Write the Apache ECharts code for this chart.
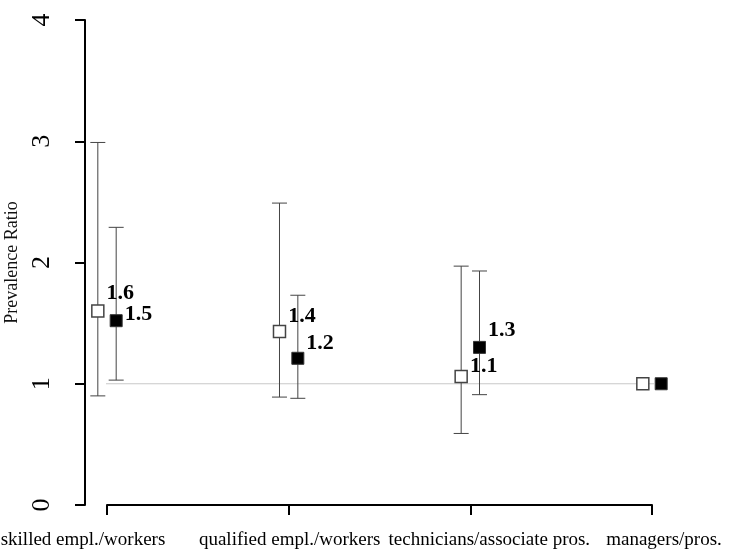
<!DOCTYPE html>
<html>
<head>
<meta charset="utf-8">
<script src="https://cdn.jsdelivr.net/npm/echarts@6/dist/echarts.min.js"></script>
<style>
html,body{margin:0;padding:0;background:#fff;}
#chart{width:739px;height:551px;}
</style>
</head>
<body>
<div id="chart"></div>
<script>
// ---- data ----
const categories = ['skilled empl./workers', 'qualified empl./workers', 'technicians/associate pros.', 'managers/pros.'];
const openPR   = [1.60, 1.43, 1.06, 1.00];
const openLo   = [0.90, 0.89, 0.59, null];
const openHi   = [2.99, 2.49, 1.97, null];
const filledPR = [1.52, 1.21, 1.30, 1.00];
const filledLo = [1.03, 0.88, 0.91, null];
const filledHi = [2.29, 1.73, 1.93, null];
const yTicks   = [0, 1, 2, 3, 4];
const refValue = 1;

// ---- layout / style (not data) ----
const dodge = 0.0505;
const openLabelOffsets   = [[0, -18], [0, -15], [0, -10], null];
const filledLabelOffsets = [[0, -6],  [0, -15], [0, -17], null];
const labelShift = [-24, 1, 19, 12]; // horizontal shift of category labels (px)
const FONT = "Liberation Serif";

function pts(vals, lo, hi, sign, offs) {
  return vals.map((v, i) => {
    const d = { value: [i + 1 + sign * dodge, v, lo[i], hi[i]] };
    d.label = lo[i] != null ? { show: true, offset: offs[i] } : { show: false };
    return d;
  });
}
function bars(vals, lo, hi, sign) {
  const out = [];
  vals.forEach((v, i) => { if (lo[i] != null) out.push([i + 1 + sign * dodge, lo[i], hi[i]]); });
  return out;
}

const errRender = function (params, api) {
  const x = api.value(0);
  const a = api.coord([x, api.value(1)]);
  const b = api.coord([x, api.value(2)]);
  const cap = 7.5;
  const st = { stroke: '#444', lineWidth: 1 };
  return {
    type: 'group',
    children: [
      { type: 'line', shape: { x1: a[0], y1: a[1], x2: b[0], y2: b[1] }, style: st },
      { type: 'line', shape: { x1: a[0] - cap, y1: a[1], x2: a[0] + cap, y2: a[1] }, style: st },
      { type: 'line', shape: { x1: b[0] - cap, y1: b[1], x2: b[0] + cap, y2: b[1] }, style: st }
    ]
  };
};

const rich = {};
labelShift.forEach((s, i) => {
  rich['c' + i] = {
    fontFamily: FONT, fontSize: 19, color: '#000',
    padding: s >= 0 ? [0, 0, 0, 2 * s] : [0, -2 * s, 0, 0]
  };
});

const labelCommon = {
  position: 'right', distance: 2,
  fontFamily: FONT, fontSize: 22, fontWeight: 'bold', color: '#000',
  formatter: p => p.value[1].toFixed(1)
};

const chart = echarts.init(document.getElementById('chart'), null, { renderer: 'canvas' });
chart.setOption({
  animation: false,
  backgroundColor: '#fff',
  grid: { left: 107, right: 87, top: 20, bottom: 46, containLabel: false, outerBoundsMode: 'none' },
  xAxis: {
    type: 'value', min: 1, max: 4, interval: 1, offset: 3,
    axisLine: { show: true, lineStyle: { color: '#000', width: 2 } },
    axisTick: { show: true, length: 10, lineStyle: { color: '#000', width: 2 } },
    splitLine: { show: false },
    axisLabel: {
      margin: 23, hideOverlap: false, showMinLabel: true, showMaxLabel: true,
      formatter: v => '{c' + (v - 1) + '|' + categories[v - 1] + '}',
      rich: rich
    }
  },
  yAxis: {
    type: 'value', min: yTicks[0], max: yTicks[yTicks.length - 1], interval: 1, offset: 22,
    name: 'Prevalence Ratio', nameLocation: 'middle', nameGap: 60,
    nameTextStyle: { fontFamily: FONT, fontSize: 18, color: '#111' },
    axisLine: { show: true, lineStyle: { color: '#000', width: 2 } },
    axisTick: { show: true, length: 10, lineStyle: { color: '#000', width: 2 } },
    splitLine: { show: false },
    axisLabel: { rotate: 90, margin: 30, fontFamily: FONT, fontSize: 26, color: '#000' }
  },
  series: [
    {
      type: 'line', data: [[1 - 22 / 181.67, refValue], [4.02, refValue]],
      symbol: 'none', clip: false, silent: true, z: 1,
      lineStyle: { color: '#c8c8c8', width: 1.2 }
    },
    { type: 'custom', renderItem: errRender, data: bars(openPR, openLo, openHi, -1), clip: false, z: 2, silent: true },
    { type: 'custom', renderItem: errRender, data: bars(filledPR, filledLo, filledHi, 1), clip: false, z: 2, silent: true },
    {
      type: 'scatter', symbol: 'rect', symbolSize: 12, z: 3, clip: false,
      itemStyle: { color: '#fff', borderColor: '#444', borderWidth: 1.5, opacity: 1 },
      label: labelCommon,
      data: pts(openPR, openLo, openHi, -1, openLabelOffsets)
    },
    {
      type: 'scatter', symbol: 'rect', symbolSize: 12, z: 3, clip: false,
      itemStyle: { color: '#000', borderColor: '#333', borderWidth: 1, opacity: 1 },
      label: labelCommon,
      data: pts(filledPR, filledLo, filledHi, 1, filledLabelOffsets)
    }
  ]
});
</script>
</body>
</html>
